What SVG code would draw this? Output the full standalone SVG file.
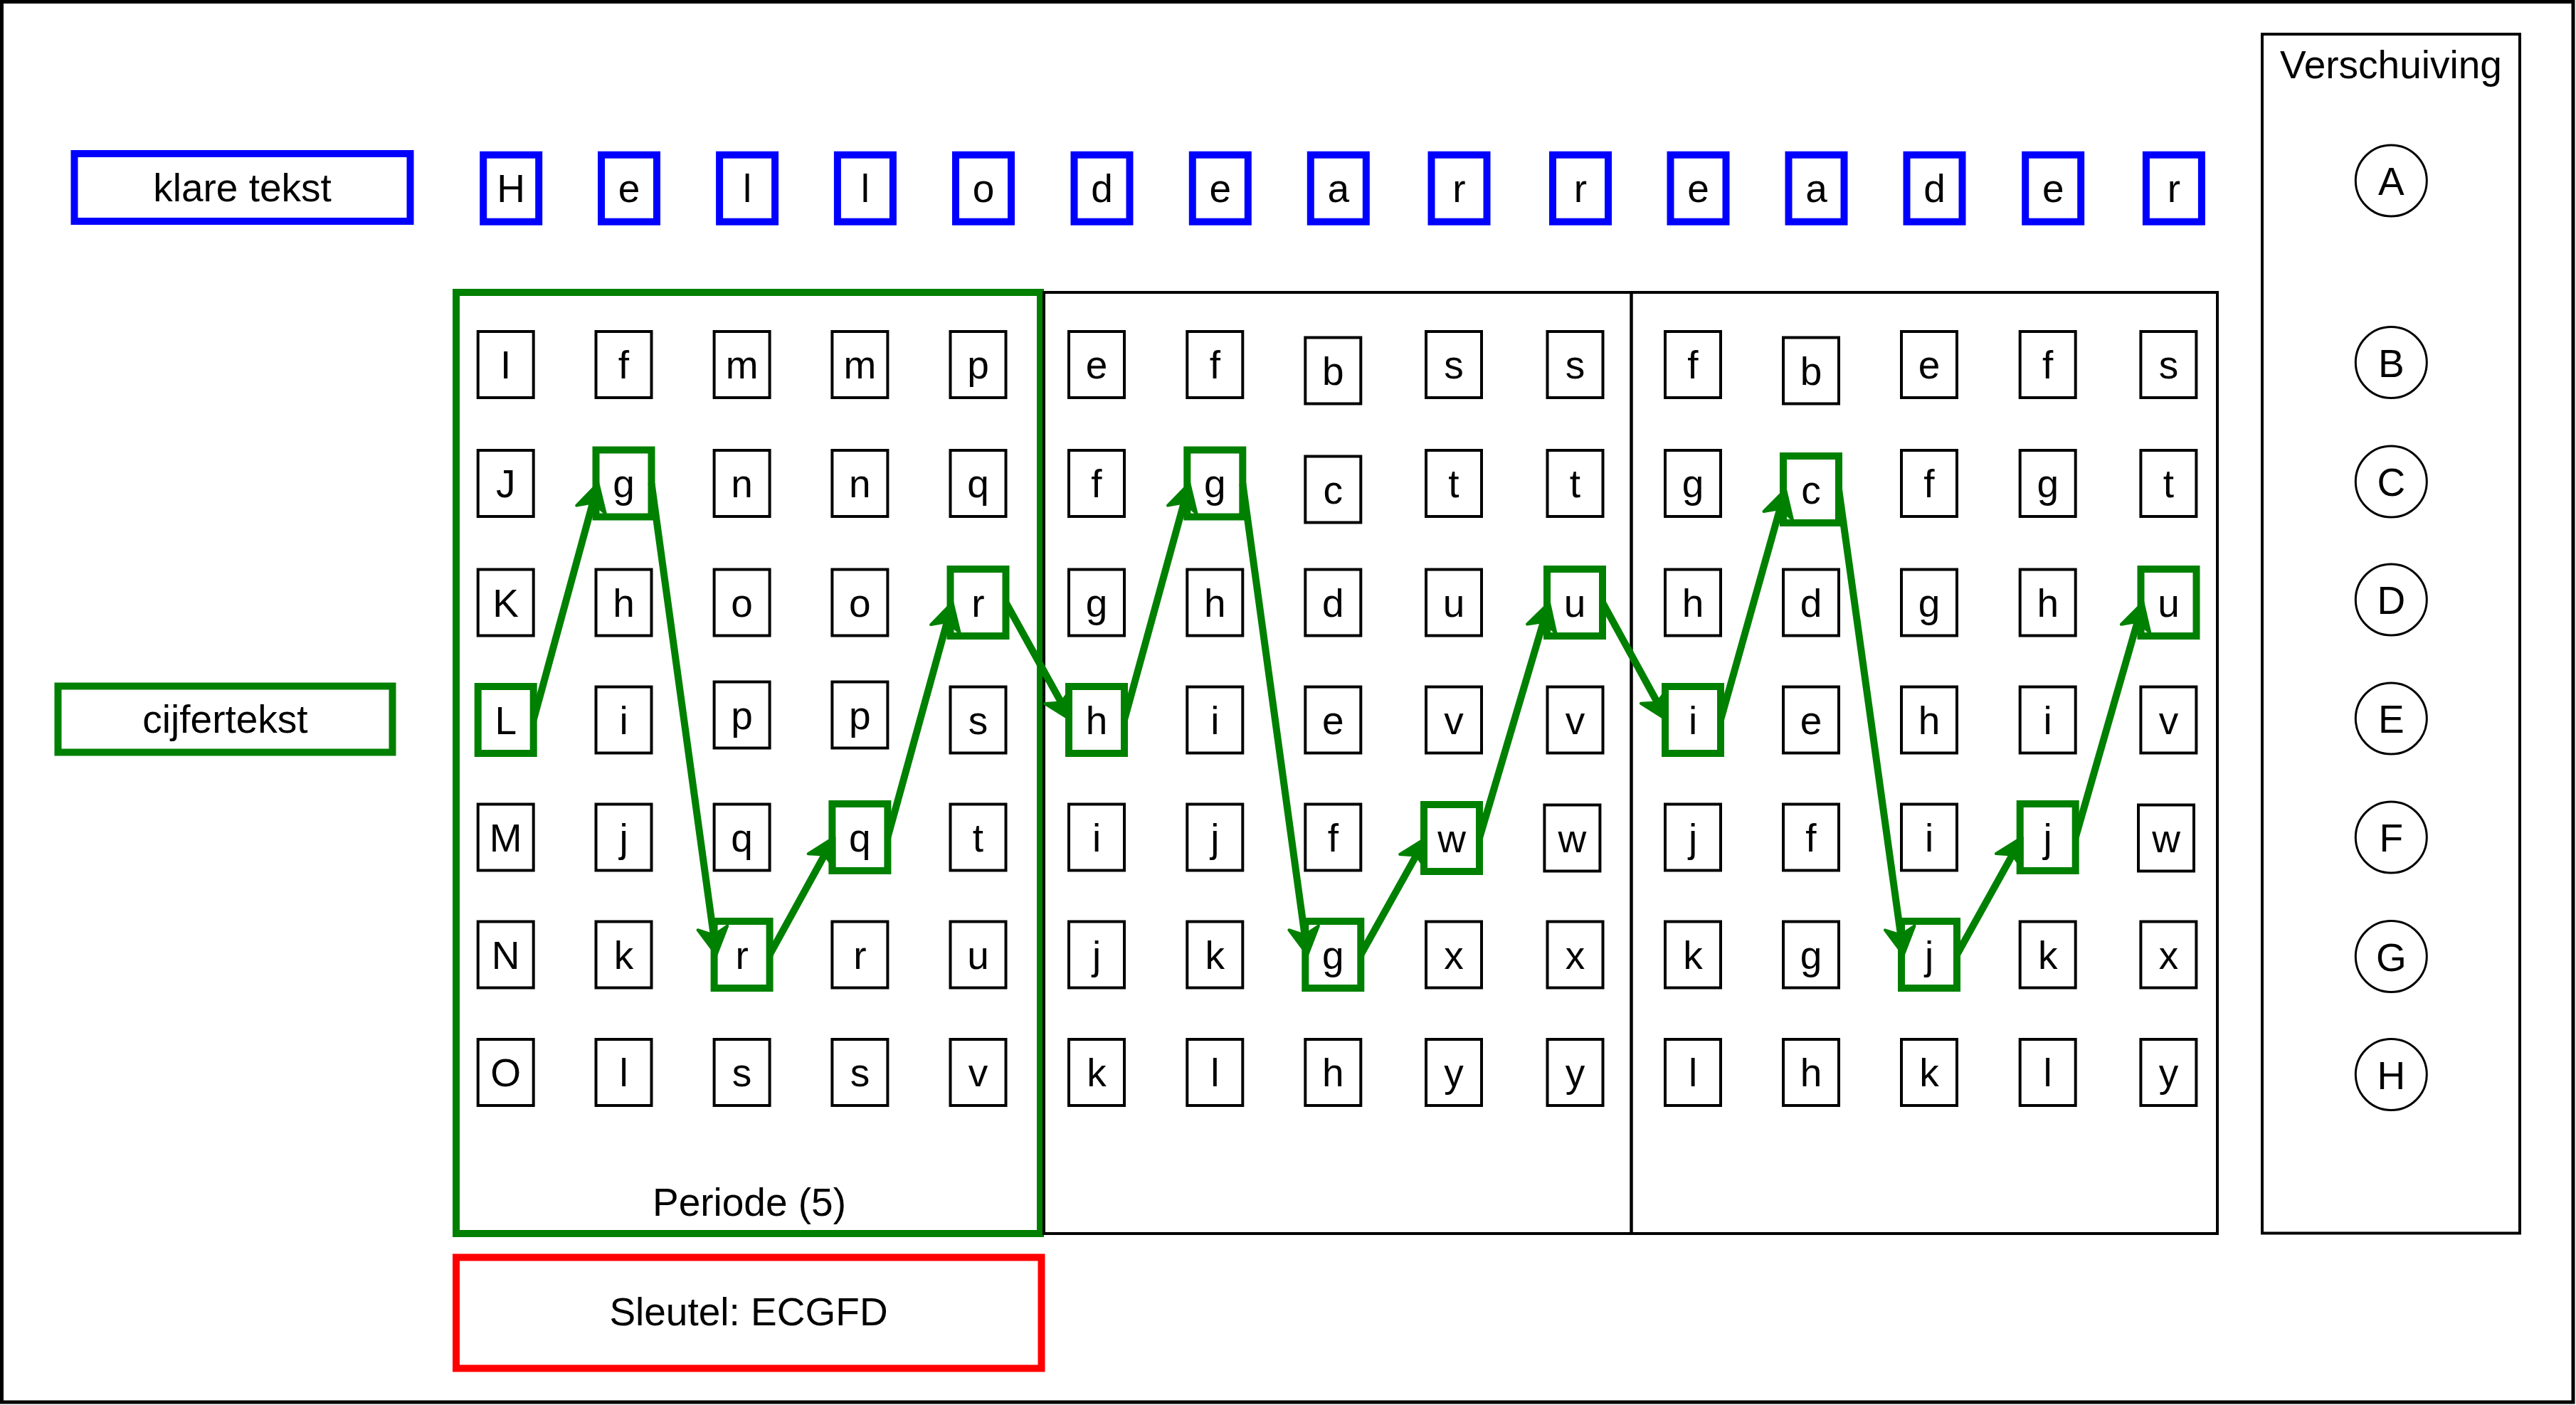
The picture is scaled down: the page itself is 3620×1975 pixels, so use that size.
<svg xmlns="http://www.w3.org/2000/svg" width="3620" height="1975" viewBox="0 0 3620 1975">
<style>
text{font-family:"Liberation Sans",Arial,Helvetica,sans-serif;font-size:55px;fill:#000;text-anchor:middle}
.cb{fill:#fff;stroke:#000;stroke-width:4}
.cg{fill:#fff;stroke:#008000;stroke-width:10}
.cbl{fill:#fff;stroke:#0000ff;stroke-width:10}
.sec{fill:none;stroke:#000;stroke-width:4}
.ci{fill:#fff;stroke:#000;stroke-width:3}
.e{fill:none;stroke:#008000;stroke-width:10;marker-end:url(#arr)}
</style>
<defs>
<marker id="arr" markerUnits="userSpaceOnUse" viewBox="-14 -26 50 52" markerWidth="50" markerHeight="52" refX="0" refY="0" orient="auto" overflow="visible">
<path d="M-10,-21 L28,0 L-10,21 L0,0 Z" fill="#008000" stroke="#008000" stroke-width="4" stroke-linejoin="round"/>
</marker>
</defs>
<rect x="0" y="0" width="3620" height="1975" fill="#fff"/>
<rect id="frame" x="2.5" y="2.5" width="3613.5" height="1968.5" fill="none" stroke="#000" stroke-width="5"/>

<g id="periode1"><rect x="641" y="411" width="821" height="1323" fill="none" stroke="#008000" stroke-width="10"/><text x="1053" y="1709">Periode (5)</text></g>
<g id="periode2"><rect class="sec" x="1467" y="411" width="825.5" height="1323"/></g>
<g id="periode3"><rect class="sec" x="2292.5" y="411" width="823.5" height="1323"/></g>

<g id="verschuiving"><rect class="sec" x="3179" y="48" width="362" height="1685.5"/><text x="3360" y="110">Verschuiving</text></g>
<g id="shiftA" transform="translate(3360.3,254)"><circle class="ci" r="50"/><text y="20">A</text></g>
<g id="shiftB" transform="translate(3360.3,509.5)"><circle class="ci" r="50"/><text y="20">B</text></g>
<g id="shiftC" transform="translate(3360.3,677)"><circle class="ci" r="50"/><text y="20">C</text></g>
<g id="shiftD" transform="translate(3360.3,843)"><circle class="ci" r="50"/><text y="20">D</text></g>
<g id="shiftE" transform="translate(3360.3,1010)"><circle class="ci" r="50"/><text y="20">E</text></g>
<g id="shiftF" transform="translate(3360.3,1177)"><circle class="ci" r="50"/><text y="20">F</text></g>
<g id="shiftG" transform="translate(3360.3,1344.5)"><circle class="ci" r="50"/><text y="20">G</text></g>
<g id="shiftH" transform="translate(3360.3,1510.5)"><circle class="ci" r="50"/><text y="20">H</text></g>

<g id="klaretekst"><rect class="cbl" x="104.5" y="216" width="472" height="95"/><text x="340.5" y="283">klare tekst</text></g>
<g id="cijfertekst"><rect class="cg" x="81.5" y="964.5" width="470" height="93"/><text x="316.5" y="1030">cijfertekst</text></g>
<g id="sleutel"><rect x="641" y="1767.5" width="822.5" height="156" fill="#fff" stroke="#ff0000" stroke-width="10"/><text x="1052" y="1863">Sleutel: ECGFD</text></g>

<g id="plain">
<g id="p1" transform="translate(718.2,264.7)"><rect class="cbl" x="-39" y="-47" width="78" height="94"/><text y="19.5">H</text></g>
<g id="p2" transform="translate(884,264.7)"><rect class="cbl" x="-39" y="-47" width="78" height="94"/><text y="19.5">e</text></g>
<g id="p3" transform="translate(1050.1,264.7)"><rect class="cbl" x="-39" y="-47" width="78" height="94"/><text y="19.5">l</text></g>
<g id="p4" transform="translate(1215.9,264.7)"><rect class="cbl" x="-39" y="-47" width="78" height="94"/><text y="19.5">l</text></g>
<g id="p5" transform="translate(1382,264.7)"><rect class="cbl" x="-39" y="-47" width="78" height="94"/><text y="19.5">o</text></g>
<g id="p6" transform="translate(1548.5,264.7)"><rect class="cbl" x="-39" y="-47" width="78" height="94"/><text y="19.5">d</text></g>
<g id="p7" transform="translate(1714.8,264.7)"><rect class="cbl" x="-39" y="-47" width="78" height="94"/><text y="19.5">e</text></g>
<g id="p8" transform="translate(1880.8,264.7)"><rect class="cbl" x="-39" y="-47" width="78" height="94"/><text y="19.5">a</text></g>
<g id="p9" transform="translate(2050.5,264.7)"><rect class="cbl" x="-39" y="-47" width="78" height="94"/><text y="19.5">r</text></g>
<g id="p10" transform="translate(2221,264.7)"><rect class="cbl" x="-39" y="-47" width="78" height="94"/><text y="19.5">r</text></g>
<g id="p11" transform="translate(2386.5,264.7)"><rect class="cbl" x="-39" y="-47" width="78" height="94"/><text y="19.5">e</text></g>
<g id="p12" transform="translate(2552.5,264.7)"><rect class="cbl" x="-39" y="-47" width="78" height="94"/><text y="19.5">a</text></g>
<g id="p13" transform="translate(2718.5,264.7)"><rect class="cbl" x="-39" y="-47" width="78" height="94"/><text y="19.5">d</text></g>
<g id="p14" transform="translate(2885.2,264.7)"><rect class="cbl" x="-39" y="-47" width="78" height="94"/><text y="19.5">e</text></g>
<g id="p15" transform="translate(3054.9,264.7)"><rect class="cbl" x="-39" y="-47" width="78" height="94"/><text y="19.5">r</text></g>
</g>

<g id="grid">
<g id="c1r1" transform="translate(710.7,512.5)"><rect class="cb" x="-39" y="-46.5" width="78" height="93"/><text y="19.5">I</text></g>
<g id="c1r2" transform="translate(710.7,679.5)"><rect class="cb" x="-39" y="-46.5" width="78" height="93"/><text y="19.5">J</text></g>
<g id="c1r3" transform="translate(710.7,847)"><rect class="cb" x="-39" y="-46.5" width="78" height="93"/><text y="19.5">K</text></g>
<g id="c1r4" transform="translate(710.7,1012)"><rect class="cg" x="-39" y="-47" width="78" height="94"/><text y="19.5">L</text></g>
<g id="c1r5" transform="translate(710.7,1177)"><rect class="cb" x="-39" y="-46.5" width="78" height="93"/><text y="19.5">M</text></g>
<g id="c1r6" transform="translate(710.7,1342)"><rect class="cb" x="-39" y="-46.5" width="78" height="93"/><text y="19.5">N</text></g>
<g id="c1r7" transform="translate(710.7,1507.5)"><rect class="cb" x="-39" y="-46.5" width="78" height="93"/><text y="19.5">O</text></g>
<g id="c2r1" transform="translate(876.5,512.5)"><rect class="cb" x="-39" y="-46.5" width="78" height="93"/><text y="19.5">f</text></g>
<g id="c2r2" transform="translate(876.5,679.5)"><rect class="cg" x="-39" y="-47" width="78" height="94"/><text y="19.5">g</text></g>
<g id="c2r3" transform="translate(876.5,847)"><rect class="cb" x="-39" y="-46.5" width="78" height="93"/><text y="19.5">h</text></g>
<g id="c2r4" transform="translate(876.5,1012)"><rect class="cb" x="-39" y="-46.5" width="78" height="93"/><text y="19.5">i</text></g>
<g id="c2r5" transform="translate(876.5,1177)"><rect class="cb" x="-39" y="-46.5" width="78" height="93"/><text y="19.5">j</text></g>
<g id="c2r6" transform="translate(876.5,1342)"><rect class="cb" x="-39" y="-46.5" width="78" height="93"/><text y="19.5">k</text></g>
<g id="c2r7" transform="translate(876.5,1507.5)"><rect class="cb" x="-39" y="-46.5" width="78" height="93"/><text y="19.5">l</text></g>
<g id="c3r1" transform="translate(1042.6,512.5)"><rect class="cb" x="-39" y="-46.5" width="78" height="93"/><text y="19.5">m</text></g>
<g id="c3r2" transform="translate(1042.6,679.5)"><rect class="cb" x="-39" y="-46.5" width="78" height="93"/><text y="19.5">n</text></g>
<g id="c3r3" transform="translate(1042.6,847)"><rect class="cb" x="-39" y="-46.5" width="78" height="93"/><text y="19.5">o</text></g>
<g id="c3r4" transform="translate(1042.6,1005)"><rect class="cb" x="-39" y="-46.5" width="78" height="93"/><text y="19.5">p</text></g>
<g id="c3r5" transform="translate(1042.6,1177)"><rect class="cb" x="-39" y="-46.5" width="78" height="93"/><text y="19.5">q</text></g>
<g id="c3r6" transform="translate(1042.6,1342)"><rect class="cg" x="-39" y="-47" width="78" height="94"/><text y="19.5">r</text></g>
<g id="c3r7" transform="translate(1042.6,1507.5)"><rect class="cb" x="-39" y="-46.5" width="78" height="93"/><text y="19.5">s</text></g>
<g id="c4r1" transform="translate(1208.4,512.5)"><rect class="cb" x="-39" y="-46.5" width="78" height="93"/><text y="19.5">m</text></g>
<g id="c4r2" transform="translate(1208.4,679.5)"><rect class="cb" x="-39" y="-46.5" width="78" height="93"/><text y="19.5">n</text></g>
<g id="c4r3" transform="translate(1208.4,847)"><rect class="cb" x="-39" y="-46.5" width="78" height="93"/><text y="19.5">o</text></g>
<g id="c4r4" transform="translate(1208.4,1005)"><rect class="cb" x="-39" y="-46.5" width="78" height="93"/><text y="19.5">p</text></g>
<g id="c4r5" transform="translate(1208.4,1177)"><rect class="cg" x="-39" y="-47" width="78" height="94"/><text y="19.5">q</text></g>
<g id="c4r6" transform="translate(1208.4,1342)"><rect class="cb" x="-39" y="-46.5" width="78" height="93"/><text y="19.5">r</text></g>
<g id="c4r7" transform="translate(1208.4,1507.5)"><rect class="cb" x="-39" y="-46.5" width="78" height="93"/><text y="19.5">s</text></g>
<g id="c5r1" transform="translate(1374.5,512.5)"><rect class="cb" x="-39" y="-46.5" width="78" height="93"/><text y="19.5">p</text></g>
<g id="c5r2" transform="translate(1374.5,679.5)"><rect class="cb" x="-39" y="-46.5" width="78" height="93"/><text y="19.5">q</text></g>
<g id="c5r3" transform="translate(1374.5,847)"><rect class="cg" x="-39" y="-47" width="78" height="94"/><text y="19.5">r</text></g>
<g id="c5r4" transform="translate(1374.5,1012)"><rect class="cb" x="-39" y="-46.5" width="78" height="93"/><text y="19.5">s</text></g>
<g id="c5r5" transform="translate(1374.5,1177)"><rect class="cb" x="-39" y="-46.5" width="78" height="93"/><text y="19.5">t</text></g>
<g id="c5r6" transform="translate(1374.5,1342)"><rect class="cb" x="-39" y="-46.5" width="78" height="93"/><text y="19.5">u</text></g>
<g id="c5r7" transform="translate(1374.5,1507.5)"><rect class="cb" x="-39" y="-46.5" width="78" height="93"/><text y="19.5">v</text></g>
<g id="c6r1" transform="translate(1541,512.5)"><rect class="cb" x="-39" y="-46.5" width="78" height="93"/><text y="19.5">e</text></g>
<g id="c6r2" transform="translate(1541,679.5)"><rect class="cb" x="-39" y="-46.5" width="78" height="93"/><text y="19.5">f</text></g>
<g id="c6r3" transform="translate(1541,847)"><rect class="cb" x="-39" y="-46.5" width="78" height="93"/><text y="19.5">g</text></g>
<g id="c6r4" transform="translate(1541,1012)"><rect class="cg" x="-39" y="-47" width="78" height="94"/><text y="19.5">h</text></g>
<g id="c6r5" transform="translate(1541,1177)"><rect class="cb" x="-39" y="-46.5" width="78" height="93"/><text y="19.5">i</text></g>
<g id="c6r6" transform="translate(1541,1342)"><rect class="cb" x="-39" y="-46.5" width="78" height="93"/><text y="19.5">j</text></g>
<g id="c6r7" transform="translate(1541,1507.5)"><rect class="cb" x="-39" y="-46.5" width="78" height="93"/><text y="19.5">k</text></g>
<g id="c7r1" transform="translate(1707.3,512.5)"><rect class="cb" x="-39" y="-46.5" width="78" height="93"/><text y="19.5">f</text></g>
<g id="c7r2" transform="translate(1707.3,679.5)"><rect class="cg" x="-39" y="-47" width="78" height="94"/><text y="19.5">g</text></g>
<g id="c7r3" transform="translate(1707.3,847)"><rect class="cb" x="-39" y="-46.5" width="78" height="93"/><text y="19.5">h</text></g>
<g id="c7r4" transform="translate(1707.3,1012)"><rect class="cb" x="-39" y="-46.5" width="78" height="93"/><text y="19.5">i</text></g>
<g id="c7r5" transform="translate(1707.3,1177)"><rect class="cb" x="-39" y="-46.5" width="78" height="93"/><text y="19.5">j</text></g>
<g id="c7r6" transform="translate(1707.3,1342)"><rect class="cb" x="-39" y="-46.5" width="78" height="93"/><text y="19.5">k</text></g>
<g id="c7r7" transform="translate(1707.3,1507.5)"><rect class="cb" x="-39" y="-46.5" width="78" height="93"/><text y="19.5">l</text></g>
<g id="c8r1" transform="translate(1873.3,521)"><rect class="cb" x="-39" y="-46.5" width="78" height="93"/><text y="19.5">b</text></g>
<g id="c8r2" transform="translate(1873.3,688)"><rect class="cb" x="-39" y="-46.5" width="78" height="93"/><text y="19.5">c</text></g>
<g id="c8r3" transform="translate(1873.3,847)"><rect class="cb" x="-39" y="-46.5" width="78" height="93"/><text y="19.5">d</text></g>
<g id="c8r4" transform="translate(1873.3,1012)"><rect class="cb" x="-39" y="-46.5" width="78" height="93"/><text y="19.5">e</text></g>
<g id="c8r5" transform="translate(1873.3,1177)"><rect class="cb" x="-39" y="-46.5" width="78" height="93"/><text y="19.5">f</text></g>
<g id="c8r6" transform="translate(1873.3,1342)"><rect class="cg" x="-39" y="-47" width="78" height="94"/><text y="19.5">g</text></g>
<g id="c8r7" transform="translate(1873.3,1507.5)"><rect class="cb" x="-39" y="-46.5" width="78" height="93"/><text y="19.5">h</text></g>
<g id="c9r1" transform="translate(2043,512.5)"><rect class="cb" x="-39" y="-46.5" width="78" height="93"/><text y="19.5">s</text></g>
<g id="c9r2" transform="translate(2043,679.5)"><rect class="cb" x="-39" y="-46.5" width="78" height="93"/><text y="19.5">t</text></g>
<g id="c9r3" transform="translate(2043,847)"><rect class="cb" x="-39" y="-46.5" width="78" height="93"/><text y="19.5">u</text></g>
<g id="c9r4" transform="translate(2043,1012)"><rect class="cb" x="-39" y="-46.5" width="78" height="93"/><text y="19.5">v</text></g>
<g id="c9r5" transform="translate(2040,1178)"><rect class="cg" x="-39" y="-47" width="78" height="94"/><text y="19.5">w</text></g>
<g id="c9r6" transform="translate(2043,1342)"><rect class="cb" x="-39" y="-46.5" width="78" height="93"/><text y="19.5">x</text></g>
<g id="c9r7" transform="translate(2043,1507.5)"><rect class="cb" x="-39" y="-46.5" width="78" height="93"/><text y="19.5">y</text></g>
<g id="c10r1" transform="translate(2213.5,512.5)"><rect class="cb" x="-39" y="-46.5" width="78" height="93"/><text y="19.5">s</text></g>
<g id="c10r2" transform="translate(2213.5,679.5)"><rect class="cb" x="-39" y="-46.5" width="78" height="93"/><text y="19.5">t</text></g>
<g id="c10r3" transform="translate(2213,847)"><rect class="cg" x="-39" y="-47" width="78" height="94"/><text y="19.5">u</text></g>
<g id="c10r4" transform="translate(2213.5,1012)"><rect class="cb" x="-39" y="-46.5" width="78" height="93"/><text y="19.5">v</text></g>
<g id="c10r5" transform="translate(2209.4,1178)"><rect class="cb" x="-39" y="-46.5" width="78" height="93"/><text y="19.5">w</text></g>
<g id="c10r6" transform="translate(2213.5,1342)"><rect class="cb" x="-39" y="-46.5" width="78" height="93"/><text y="19.5">x</text></g>
<g id="c10r7" transform="translate(2213.5,1507.5)"><rect class="cb" x="-39" y="-46.5" width="78" height="93"/><text y="19.5">y</text></g>
<g id="c11r1" transform="translate(2379,512.5)"><rect class="cb" x="-39" y="-46.5" width="78" height="93"/><text y="19.5">f</text></g>
<g id="c11r2" transform="translate(2379,679.5)"><rect class="cb" x="-39" y="-46.5" width="78" height="93"/><text y="19.5">g</text></g>
<g id="c11r3" transform="translate(2379,847)"><rect class="cb" x="-39" y="-46.5" width="78" height="93"/><text y="19.5">h</text></g>
<g id="c11r4" transform="translate(2379,1012)"><rect class="cg" x="-39" y="-47" width="78" height="94"/><text y="19.5">i</text></g>
<g id="c11r5" transform="translate(2379,1177)"><rect class="cb" x="-39" y="-46.5" width="78" height="93"/><text y="19.5">j</text></g>
<g id="c11r6" transform="translate(2379,1342)"><rect class="cb" x="-39" y="-46.5" width="78" height="93"/><text y="19.5">k</text></g>
<g id="c11r7" transform="translate(2379,1507.5)"><rect class="cb" x="-39" y="-46.5" width="78" height="93"/><text y="19.5">l</text></g>
<g id="c12r1" transform="translate(2545,521)"><rect class="cb" x="-39" y="-46.5" width="78" height="93"/><text y="19.5">b</text></g>
<g id="c12r2" transform="translate(2545,688)"><rect class="cg" x="-39" y="-47" width="78" height="94"/><text y="19.5">c</text></g>
<g id="c12r3" transform="translate(2545,847)"><rect class="cb" x="-39" y="-46.5" width="78" height="93"/><text y="19.5">d</text></g>
<g id="c12r4" transform="translate(2545,1012)"><rect class="cb" x="-39" y="-46.5" width="78" height="93"/><text y="19.5">e</text></g>
<g id="c12r5" transform="translate(2545,1177)"><rect class="cb" x="-39" y="-46.5" width="78" height="93"/><text y="19.5">f</text></g>
<g id="c12r6" transform="translate(2545,1342)"><rect class="cb" x="-39" y="-46.5" width="78" height="93"/><text y="19.5">g</text></g>
<g id="c12r7" transform="translate(2545,1507.5)"><rect class="cb" x="-39" y="-46.5" width="78" height="93"/><text y="19.5">h</text></g>
<g id="c13r1" transform="translate(2711,512.5)"><rect class="cb" x="-39" y="-46.5" width="78" height="93"/><text y="19.5">e</text></g>
<g id="c13r2" transform="translate(2711,679.5)"><rect class="cb" x="-39" y="-46.5" width="78" height="93"/><text y="19.5">f</text></g>
<g id="c13r3" transform="translate(2711,847)"><rect class="cb" x="-39" y="-46.5" width="78" height="93"/><text y="19.5">g</text></g>
<g id="c13r4" transform="translate(2711,1012)"><rect class="cb" x="-39" y="-46.5" width="78" height="93"/><text y="19.5">h</text></g>
<g id="c13r5" transform="translate(2711,1177)"><rect class="cb" x="-39" y="-46.5" width="78" height="93"/><text y="19.5">i</text></g>
<g id="c13r6" transform="translate(2711,1342)"><rect class="cg" x="-39" y="-47" width="78" height="94"/><text y="19.5">j</text></g>
<g id="c13r7" transform="translate(2711,1507.5)"><rect class="cb" x="-39" y="-46.5" width="78" height="93"/><text y="19.5">k</text></g>
<g id="c14r1" transform="translate(2877.7,512.5)"><rect class="cb" x="-39" y="-46.5" width="78" height="93"/><text y="19.5">f</text></g>
<g id="c14r2" transform="translate(2877.7,679.5)"><rect class="cb" x="-39" y="-46.5" width="78" height="93"/><text y="19.5">g</text></g>
<g id="c14r3" transform="translate(2877.7,847)"><rect class="cb" x="-39" y="-46.5" width="78" height="93"/><text y="19.5">h</text></g>
<g id="c14r4" transform="translate(2877.7,1012)"><rect class="cb" x="-39" y="-46.5" width="78" height="93"/><text y="19.5">i</text></g>
<g id="c14r5" transform="translate(2877.7,1177)"><rect class="cg" x="-39" y="-47" width="78" height="94"/><text y="19.5">j</text></g>
<g id="c14r6" transform="translate(2877.7,1342)"><rect class="cb" x="-39" y="-46.5" width="78" height="93"/><text y="19.5">k</text></g>
<g id="c14r7" transform="translate(2877.7,1507.5)"><rect class="cb" x="-39" y="-46.5" width="78" height="93"/><text y="19.5">l</text></g>
<g id="c15r1" transform="translate(3047.4,512.5)"><rect class="cb" x="-39" y="-46.5" width="78" height="93"/><text y="19.5">s</text></g>
<g id="c15r2" transform="translate(3047.4,679.5)"><rect class="cb" x="-39" y="-46.5" width="78" height="93"/><text y="19.5">t</text></g>
<g id="c15r3" transform="translate(3047.5,847)"><rect class="cg" x="-39" y="-47" width="78" height="94"/><text y="19.5">u</text></g>
<g id="c15r4" transform="translate(3047.4,1012)"><rect class="cb" x="-39" y="-46.5" width="78" height="93"/><text y="19.5">v</text></g>
<g id="c15r5" transform="translate(3044,1178)"><rect class="cb" x="-39" y="-46.5" width="78" height="93"/><text y="19.5">w</text></g>
<g id="c15r6" transform="translate(3047.4,1342)"><rect class="cb" x="-39" y="-46.5" width="78" height="93"/><text y="19.5">x</text></g>
<g id="c15r7" transform="translate(3047.4,1507.5)"><rect class="cb" x="-39" y="-46.5" width="78" height="93"/><text y="19.5">y</text></g>
</g>

<g id="connectors">
<path class="e" d="M749.7,1012 L833.1,706.5"/>
<path class="e" d="M915.5,679.5 L1002.8,1314.3"/>
<path class="e" d="M1081.6,1342 L1158.9,1201.5"/>
<path class="e" d="M1247.4,1177 L1331,874"/>
<path class="e" d="M1413.5,847 L1491.4,987.5"/>
<path class="e" d="M1580,1012 L1663.9,706.5"/>
<path class="e" d="M1746.3,679.5 L1833.5,1314.3"/>
<path class="e" d="M1912.3,1342 L1990.3,1202.4"/>
<path class="e" d="M2079,1178 L2169,873.9"/>
<path class="e" d="M2252,847 L2329.1,987.5"/>
<path class="e" d="M2418,1012 L2501.4,715"/>
<path class="e" d="M2584,688 L2671.1,1314.3"/>
<path class="e" d="M2750,1342 L2828.1,1201.5"/>
<path class="e" d="M2916.7,1177 L3003.8,873.9"/>
</g>
</svg>
